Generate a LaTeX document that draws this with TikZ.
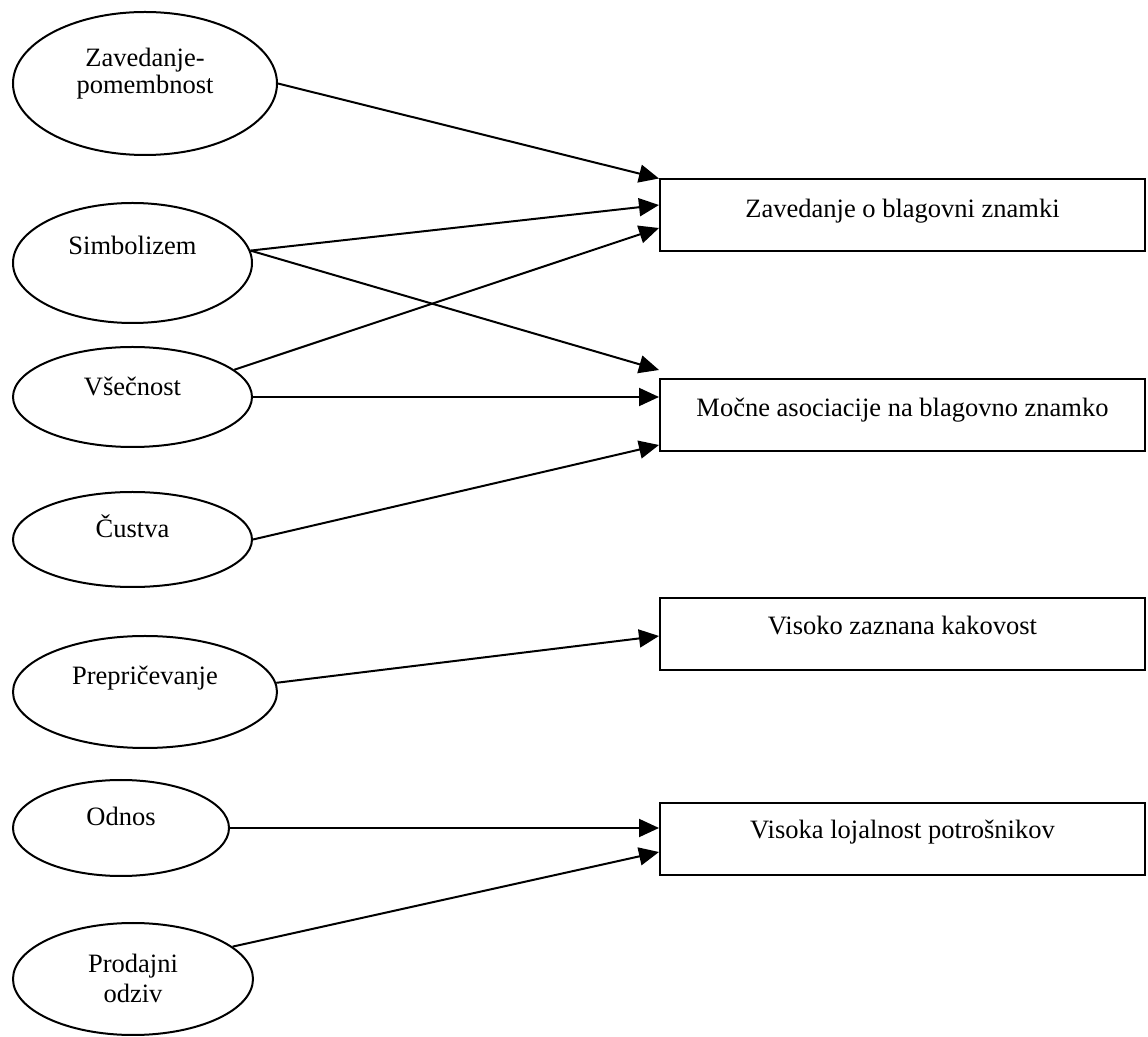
\documentclass[tikz,border=0pt]{standalone}
\usepackage{fontspec}
\setmainfont{Liberation Serif}
\usetikzlibrary{shapes.geometric,arrows.meta}
\begin{document}
\begin{tikzpicture}[x=0.5pt,y=-0.5pt,
  ell/.style={ellipse, draw, line width=1pt, inner sep=0pt},
  box/.style={rectangle, draw, line width=1pt, inner sep=0pt, minimum width=242.5pt, minimum height=36pt},
  txt/.style={anchor=base, inner sep=0pt, font=\fontsize{13.25}{15}\selectfont},
  arr/.style={line width=1pt, -{Triangle[length=10pt,width=9pt]}}]
\useasboundingbox (0,0) rectangle (1148,1037);

% ellipses
\node[ell, minimum width=132pt, minimum height=71.5pt] (e1) at (145,83.5) {};
\node[txt] (e1a) at (145,67) {Zavedanje-};
\node[txt] (e1b) at (145,94) {pomembnost};

\node[ell, minimum width=119.5pt, minimum height=60pt] (e2) at (132.5,263) {};
\node[txt] (e2a) at (132.5,255) {Simbolizem};

\node[ell, minimum width=119.5pt, minimum height=50pt] (e3) at (132.5,397) {};
\node[txt] (e3a) at (132.5,396) {Všečnost};

\node[ell, minimum width=119.5pt, minimum height=47.5pt] (e4) at (132.5,539.5) {};
\node[txt] (e4a) at (132.5,538) {Čustva};

\node[ell, minimum width=132pt, minimum height=56pt] (e5) at (145,692) {};
\node[txt] (e5a) at (145,685) {Prepričevanje};

\node[ell, minimum width=108pt, minimum height=48pt] (e6) at (121,828) {};
\node[txt] (e6a) at (121,826) {Odnos};

\node[ell, minimum width=120pt, minimum height=56pt] (e7) at (133,979) {};
\node[txt] (e7a) at (133,973) {Prodajni};
\node[txt] (e7b) at (133,1003) {odziv};

% boxes
\node[box] (b1) at (902.5,215.5) {};
\node[txt] (b1a) at (902.5,218) {Zavedanje o blagovni znamki};
\node[box] (b2) at (902.5,415) {};
\node[txt] (b2a) at (902.5,417) {Močne asociacije na blagovno znamko};
\node[box] (b3) at (902.5,634) {};
\node[txt] (b3a) at (902.5,635) {Visoko zaznana kakovost};
\node[box] (b4) at (902.5,839) {};
\node[txt] (b4a) at (902.5,839) {Visoka lojalnost potrošnikov};

% connectors
\draw[arr] (e1.east) -- (b1.north west);
\draw[arr] (e2.6) -- ([yshift=5.25pt]b1.west);
\draw[arr] (e2.6) -- ([yshift=4pt]b2.north west);
\draw[arr] (e3.15) -- ([yshift=-6.25pt]b1.west);
\draw[arr] (e3.east) -- (e3.east -| b2.west);
\draw[arr] (e4.east) -- ([yshift=-15pt]b2.west);
\draw[arr] (e5.4) -- ([yshift=-1pt]b3.west);
\draw[arr] (e6.east) -- (e6.east -| b4.west);
\draw[arr] (e7.18) -- ([yshift=-6.5pt]b4.west);
\end{tikzpicture}
\end{document}
